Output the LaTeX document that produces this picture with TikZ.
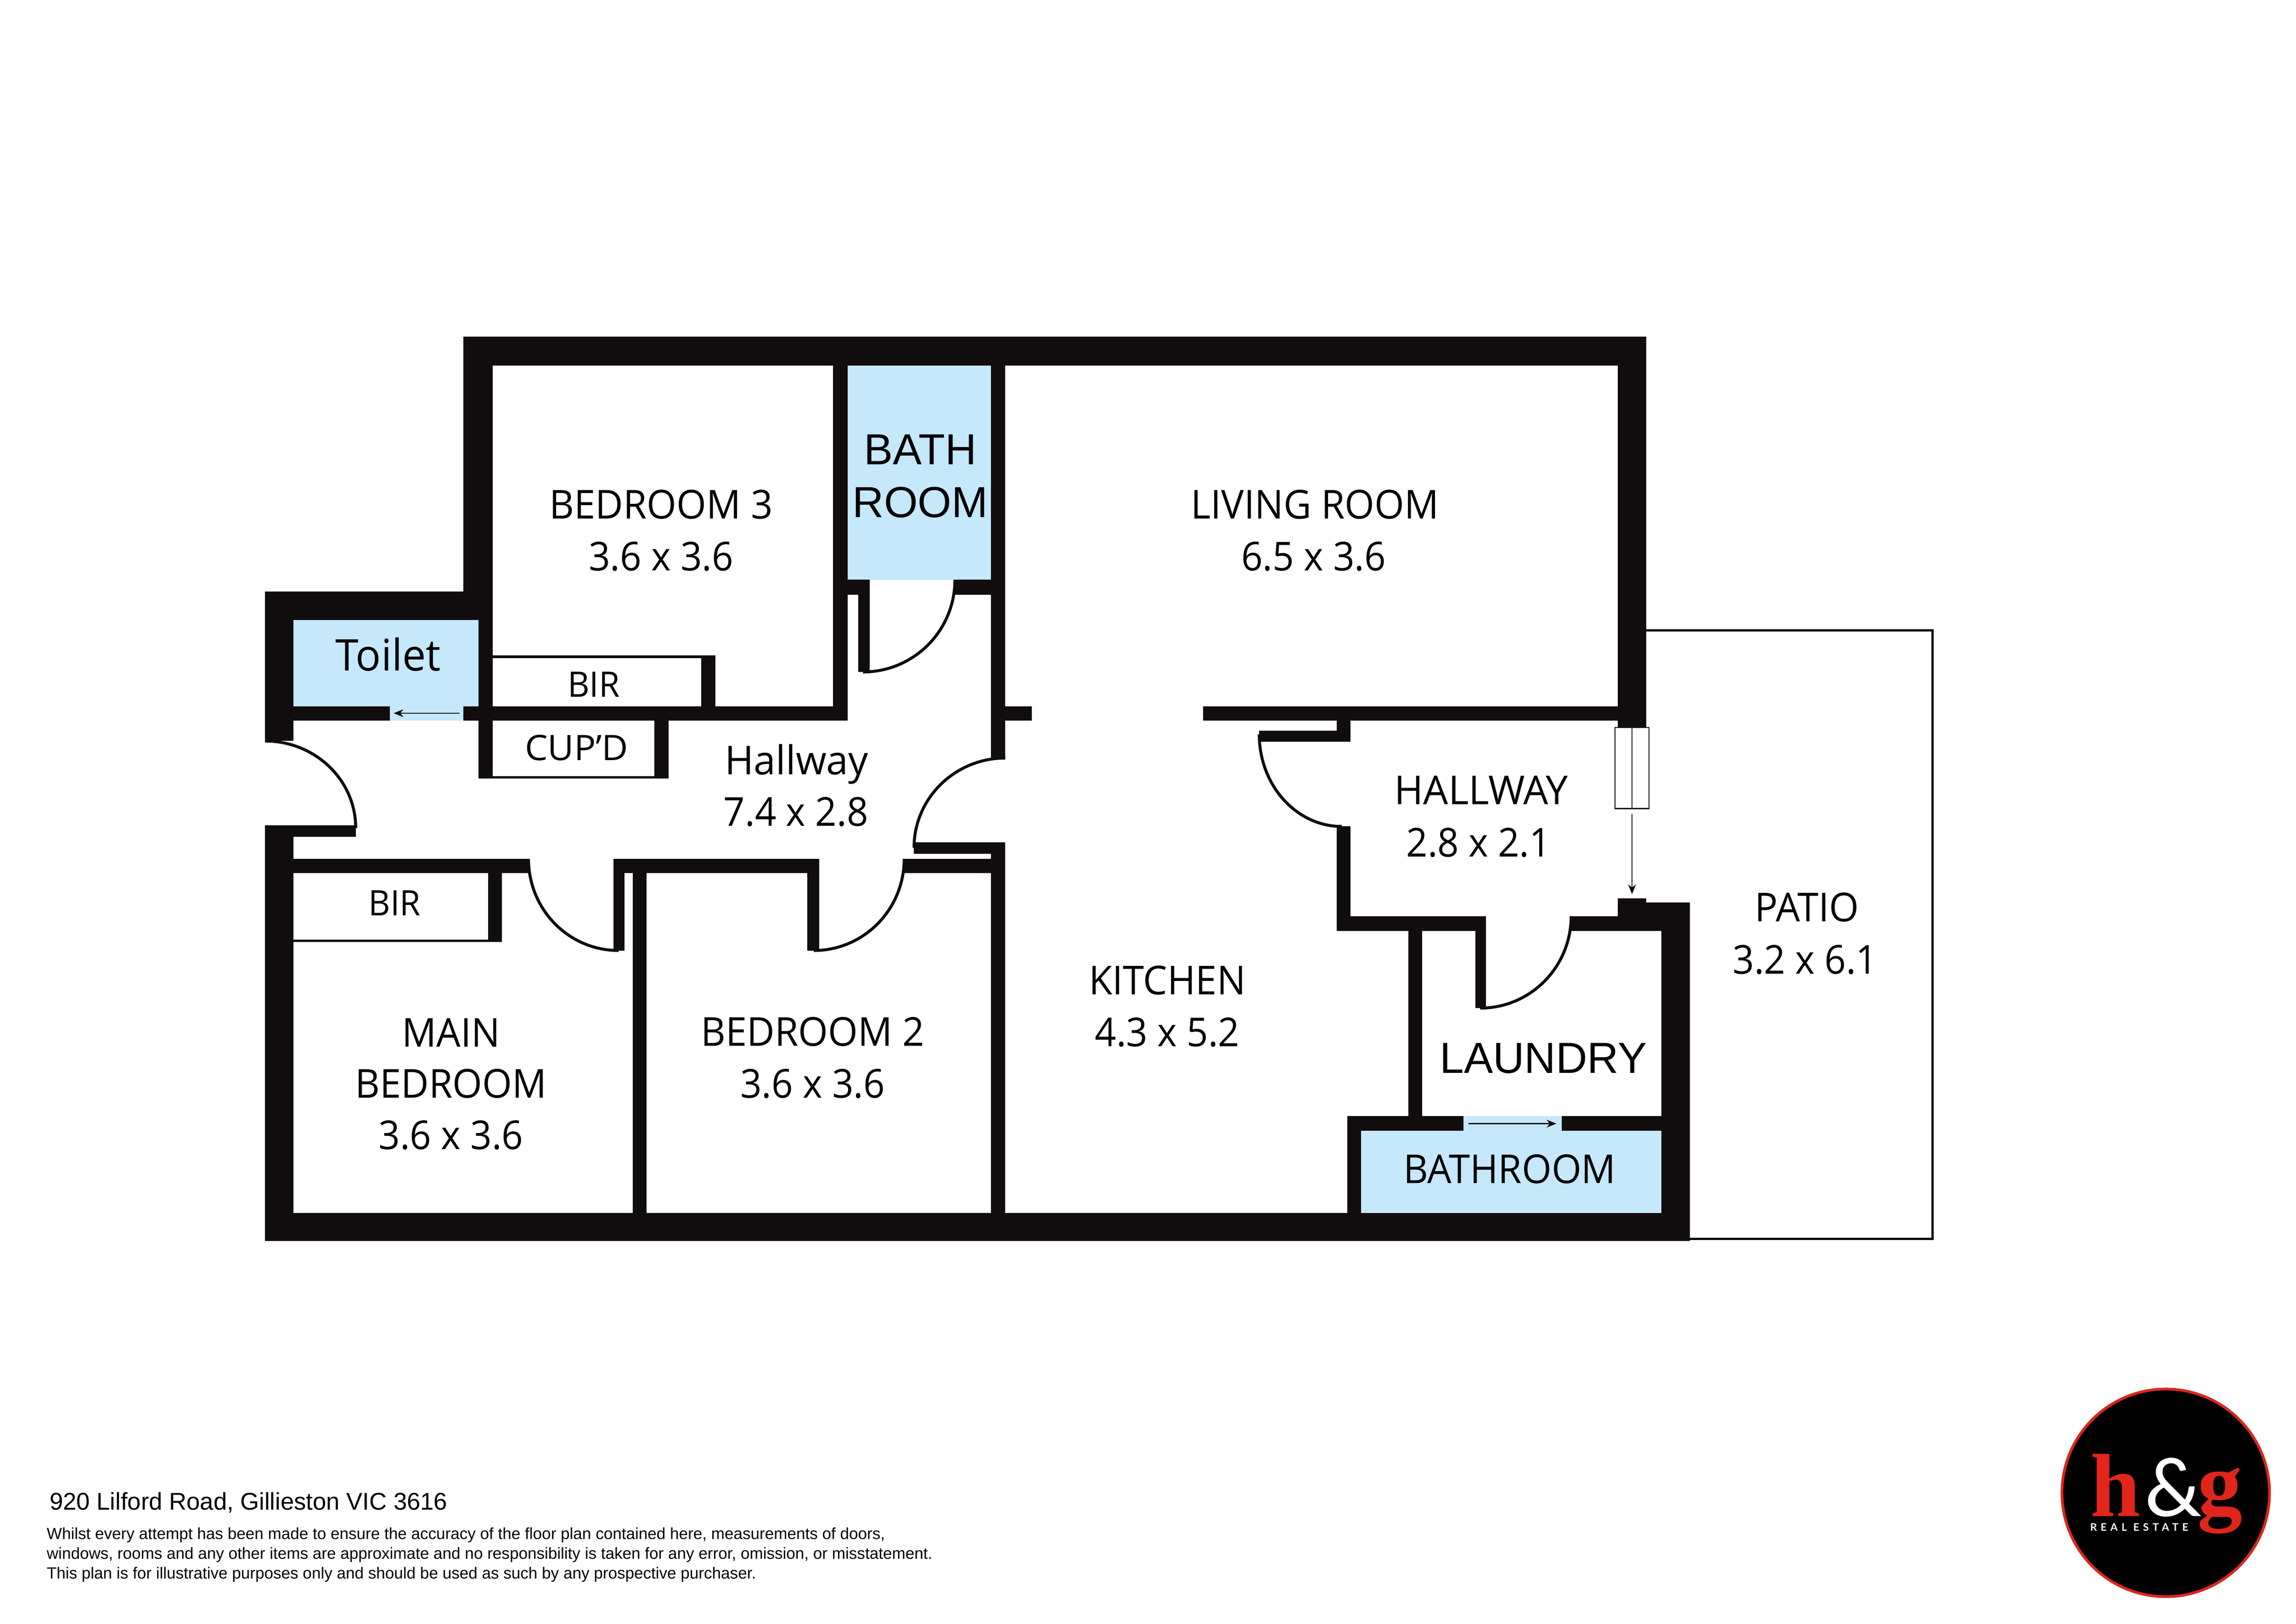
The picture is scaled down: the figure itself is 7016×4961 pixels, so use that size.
\documentclass[tikz,border=0pt]{standalone}
\usepackage{fontspec}
\usetikzlibrary{arrows.meta}
\setmainfont{Liberation Sans}
\newfontfamily\myr[FakeStretch=0.96]{Open Sans}
\newfontfamily\myn[FakeStretch=0.94]{Open Sans}
\newfontfamily\myw[FakeStretch=0.99]{Open Sans}
\newfontfamily\myc[FakeStretch=1.03]{Open Sans}
\newfontfamily\arl{Liberation Sans}
\newfontfamily\ampf{Lato}
\newfontfamily\realf[LetterSpace=36]{Lato}
\newfontfamily\serf{Liberation Serif}
\definecolor{wallc}{HTML}{110C0E}
\definecolor{bluec}{HTML}{C6E8FB}
\definecolor{redc}{HTML}{E1251B}
\tikzset{
  x=0.01cm,y=-0.01cm,
  wall/.style={fill=wallc,draw=none},
  glass/.style={fill=bluec,draw=none},
  swing/.style={draw=wallc,line width=0.09cm},
  thin line/.style={draw=wallc,line width=0.035cm},
  edge line/.style={draw=wallc,line width=0.07cm},
  slider/.style={draw=wallc,line width=0.03cm,-{Stealth[length=0.3cm,width=0.24cm]}},
  lab/.style={anchor=base,inner sep=0pt,outer sep=0pt,text=black,font=\myr\fontsize{34.6pt}{34.6pt}\selectfont},
  labn/.style={lab,font=\myn\fontsize{34.6pt}{34.6pt}\selectfont},
  labw/.style={lab,font=\myw\fontsize{34.6pt}{34.6pt}\selectfont},
  labbig/.style={lab,font=\myr\fontsize{38pt}{38pt}\selectfont},
  labsmall/.style={lab,font=\myr\fontsize{30.5pt}{30.5pt}\selectfont},
  labcup/.style={lab,font=\myc\fontsize{30.5pt}{30.5pt}\selectfont},
  laba/.style={lab,font=\arl\fontsize{37.8pt}{37.8pt}\selectfont},
  foot/.style={anchor=base west,inner sep=0pt,outer sep=0pt,text=black},
}
\begin{document}
\begin{tikzpicture}
\useasboundingbox (0,0) rectangle (7016,4961);
\fill[white] (0,0) rectangle (7016,4961);
% fills
\fill[glass] (2590,1117) rectangle (3028,1772);
\fill[glass] (897,1895) rectangle (1462,2158);
\fill[glass] (1192,2158) rectangle (1416,2201);
\fill[glass] (4159,3454) rectangle (5077,3705);
\fill[glass] (4472,3410) rectangle (4772,3454);
% patio
\draw[edge line] (5030,1926) -- (5905,1926) -- (5905,3785) -- (5164,3785);
% outer walls
\fill[wall] (1416,1029) rectangle (5030,1117);
\fill[wall] (1416,1029) rectangle (1505,1808);
\fill[wall] (810,1808) rectangle (1505,1895);
\fill[wall] (810,1808) rectangle (897,2264);
\fill[wall] (810,2522) rectangle (897,3792);
\fill[wall] (810,2522) rectangle (1087,2557);
\fill[wall] (810,3706) rectangle (5164,3792);
\fill[wall] (4944,1029) rectangle (5030,2221);
\fill[wall] (5077,2757) rectangle (5164,3792);
\fill[wall] (4944,2744) rectangle (5030,2844);
\fill[wall] (5030,2757) rectangle (5164,2844);
% toilet / bedroom 3
\fill[wall] (1462,1808) rectangle (1505,2379);
\fill[wall] (897,2158) rectangle (1192,2201);
\fill[wall] (1416,2158) rectangle (2590,2201);
\fill[wall] (2546,1029) rectangle (2590,2201);
\fill[wall] (3028,1029) rectangle (3072,2316);
\fill[wall] (1505,2002) rectangle (2186,2011);
\fill[wall] (2143,2002) rectangle (2186,2201);
% cupboard
\fill[wall] (2000,2201) rectangle (2043,2379);
\fill[wall] (1462,2371) rectangle (2043,2379);
% bath door
\fill[wall] (2590,1771) rectangle (2658,1817);
\fill[wall] (2623,1771) rectangle (2658,2053);
\fill[wall] (2918,1771) rectangle (3028,1817);
% middle stubs
\fill[wall] (3072,2158) rectangle (3153,2201);
\fill[wall] (3676,2158) rectangle (4944,2202);
% kitchen door
\fill[wall] (2793,2574) rectangle (3072,2608);
\fill[wall] (3028,2574) rectangle (3072,3792);
% bedrooms
\fill[wall] (897,2624) rectangle (1615,2667);
\fill[wall] (1491,2667) rectangle (1534,2877);
\fill[wall] (897,2871) rectangle (1534,2878);
\fill[wall] (1875,2624) rectangle (1909,2904);
\fill[wall] (1875,2624) rectangle (2503,2667);
\fill[wall] (1933,2624) rectangle (1976,3792);
\fill[wall] (2467,2624) rectangle (2503,2904);
\fill[wall] (2763,2624) rectangle (3072,2667);
% hallway right
\fill[wall] (4084,2202) rectangle (4127,2266);
\fill[wall] (3848,2232) rectangle (4127,2266);
\fill[wall] (4084,2525) rectangle (4127,2844);
\fill[wall] (4084,2799) rectangle (4541,2844);
\fill[wall] (4508,2799) rectangle (4541,3080);
\fill[wall] (4801,2799) rectangle (5030,2844);
\fill[wall] (4304,2844) rectangle (4345,3411);
% bathroom
\fill[wall] (4117,3410) rectangle (4472,3454);
\fill[wall] (4772,3410) rectangle (5077,3454);
\fill[wall] (4117,3410) rectangle (4159,3792);
% door swings
\draw[swing] (810,2264) .. controls (963,2264) and (1087,2383) .. (1087,2530);
\draw[swing] (1615,2624) .. controls (1615,2779) and (1738,2904) .. (1890,2904);
\draw[swing] (2487,2904) .. controls (2639,2904) and (2763,2779) .. (2763,2624);
\draw[swing] (3072,2316) .. controls (2918,2316) and (2793,2439) .. (2793,2590);
\draw[swing] (2637,2053) .. controls (2792,2053) and (2918,1927) .. (2918,1771);
\draw[swing] (3848,2244) .. controls (3848,2399) and (3961,2525) .. (4100,2525);
\draw[swing] (4523,3080) .. controls (4677,3080) and (4801,2954) .. (4801,2799);
% sliding doors
\draw[thin line,fill=white] (4935,2223) rectangle (5039,2470);
\draw[thin line] (4987,2223) -- (4987,2470);
\coordinate (slideA) at (4987,2487);
\coordinate (slideB) at (4987,2732);
\draw[slider] (slideA) -- (slideB);
\coordinate (toiA) at (1404,2179);
\coordinate (toiB) at (1203,2179);
\draw[slider] (toiA) -- (toiB);
\coordinate (bathA) at (4488,3433);
\coordinate (bathB) at (4756,3433);
\draw[slider] (bathA) -- (bathB);
% labels
\node[lab] (bed3a) at (2020,1585) {BEDROOM 3};
\node[labn] (bed3b) at (2020,1743) {3.6 x 3.6};
\node[laba] (batha) at (2812,1419) {BATH};
\node[laba] (bathb) at (2812,1580) {ROOM};
\node[lab] (liva) at (4018,1585) {LIVING ROOM};
\node[labn] (livb) at (4014,1743) {6.5 x 3.6};
\node[labbig] (toilet) at (1186,2049) {Toilet};
\node[labsmall] (bir1) at (1814,2130) {BIR};
\node[labcup] (cupd) at (1762,2323) {CUP’D};
\node[labw] (halla) at (2434,2366) {Hallway};
\node[labn] (hallb) at (2432,2524) {7.4 x 2.8};
\node[labsmall] (bir2) at (1206,2797) {BIR};
\node[lab] (maina) at (1378,3198) {MAIN};
\node[lab] (mainb) at (1378,3354) {BEDROOM};
\node[labn] (mainc) at (1378,3511) {3.6 x 3.6};
\node[lab] (bed2a) at (2483,3196) {BEDROOM 2};
\node[labn] (bed2b) at (2483,3354) {3.6 x 3.6};
\node[lab] (kita) at (3567,3039) {KITCHEN};
\node[labn] (kitb) at (3567,3197) {4.3 x 5.2};
\node[labw] (hwa) at (4526,2457) {HALLWAY};
\node[labn] (hwb) at (4518,2618) {2.8 x 2.1};
\node[lab] (pata) at (5521,2816) {PATIO};
\node[labn] (patb) at (5516,2975) {3.2 x 6.1};
\node[laba] (laundry) at (4716,3278) {LAUNDRY};
\node[lab] (bathrm) at (4613,3616) {BATHROOM};
% footer
\node[foot,font=\arl\fontsize{21pt}{21pt}\selectfont] (addr) at (152,4613) {920 Lilford Road, Gillieston VIC 3616};
\node[foot,font=\arl\fontsize{14pt}{14pt}\selectfont] (d1) at (143,4703) {Whilst every attempt has been made to ensure the accuracy of the floor plan contained here, measurements of doors,};
\node[foot,font=\arl\fontsize{14pt}{14pt}\selectfont] (d2) at (143,4763) {windows, rooms and any other items are approximate and no responsibility is taken for any error, omission, or misstatement.};
\node[foot,font=\arl\fontsize{14pt}{14pt}\selectfont] (d3) at (143,4823) {This plan is for illustrative purposes only and should be used as such by any prospective purchaser.};
% logo
\fill[black] (6618,4561) circle[radius=321];
\draw[redc,line width=0.08cm] (6618,4561) circle[radius=317];
\node[foot,text=redc,font=\serf\bfseries\fontsize{78pt}{78pt}\selectfont] (lh) at (6388,4632) {h};
\node[foot,text=white,font=\ampf\fontsize{70pt}{70pt}\selectfont] (lamp) at (6553,4632) {\&};
\node[foot,text=redc,font=\serf\bfseries\fontsize{78pt}{78pt}\selectfont] (lg) at (6715,4625) {g};
\node[foot,text=white,font=\realf\bfseries\fontsize{9.1pt}{9.1pt}\selectfont] (lre) at (6387,4678) {REAL ESTATE};
\end{tikzpicture}
\end{document}
